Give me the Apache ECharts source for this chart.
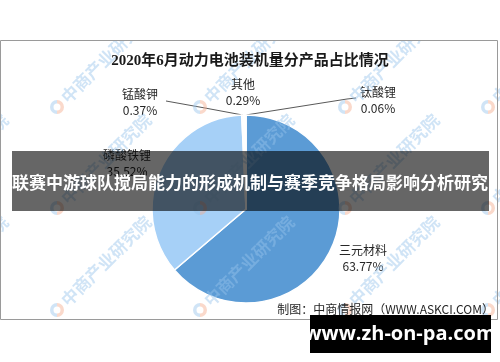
<!DOCTYPE html>
<html>
<head>
<meta charset="utf-8">
<script src="https://cdn.jsdelivr.net/npm/echarts@6/dist/echarts.min.js"></script>
<style>
html,body{margin:0;padding:0;background:#fff;}
#chart{width:500px;height:362px;}
</style>
</head>
<body>
<div id="chart"></div>
<script>
// ---- data ----
const chartTitle = '2020年6月动力电池装机量分产品占比情况';
const categories = ['三元材料', '磷酸铁锂', '锰酸钾', '其他', '钛酸锂'];
const shares = [63.77, 35.52, 0.37, 0.29, 0.06];
const sourceText = '制图：中商情报网（WWW.ASKCI.COM）';
const bannerText = '联赛中游球队搅局能力的形成机制与赛季竞争格局影响分析研究';
const siteText = 'www.zh-on-pa.com';
const watermarkText = '中商产业研究院';

// ---- styling / layout ----
const sliceColors = ['#5B9BD5', '#A6D0F7', '#FBFBFB', '#FBFBFB', '#FBFBFB'];
const showLine = [false, false, true, false, true];
// label block centres and leader-line bends (pixels)
const labelPlace = [
  {x: 363, y: 258},
  {x: 127, y: 163},
  {x: 140, y: 102, line: [[205, 108], [166, 101]]},
  {x: 243, y: 92},
  {x: 378, y: 100, line: [[347, 99], [356, 98]]}
];

const chart = echarts.init(document.getElementById('chart'), null, {renderer: 'canvas'});

const wmRowsY = [107, 208, 310];
const wmColsX = [-86, 57, 200, 345, 488];
const watermarks = [];
wmRowsY.forEach(function (y) {
  wmColsX.forEach(function (x) {
    watermarks.push({
      type: 'sector', z: 5, silent: true,
      shape: {cx: x, cy: y, r: 7, r0: 3.5, startAngle: Math.PI * 0.5, endAngle: Math.PI * 1.5},
      style: {fill: 'rgba(150,195,235,0.45)'}
    });
    watermarks.push({
      type: 'sector', z: 5, silent: true,
      shape: {cx: x, cy: y, r: 7, r0: 3.5, startAngle: -Math.PI * 0.5, endAngle: Math.PI * 0.5},
      style: {fill: 'rgba(245,170,140,0.45)'}
    });
    watermarks.push({
      type: 'text', z: 5, silent: true,
      x: x + 7, y: y - 7, rotation: Math.PI / 4,
      style: {
        text: watermarkText, fill: 'rgba(150,195,235,0.45)',
        font: 'bold 17px "Noto Sans CJK SC"', align: 'left', verticalAlign: 'middle'
      }
    });
  });
});

const option = {
  backgroundColor: '#ffffff',
  animation: false,
  title: {
    text: chartTitle,
    left: 'center', top: 49,
    textStyle: {
      fontFamily: '"Liberation Serif","Noto Sans CJK SC"',
      fontWeight: 'bold', fontSize: 15, color: '#1a1a1a'
    }
  },
  series: [{
    type: 'pie',
    center: [246, 209],
    radius: 94,
    startAngle: 90,
    clockwise: true,
    avoidLabelOverlap: false,
    itemStyle: {borderColor: '#ffffff', borderWidth: 1.5},
    label: {
      show: true,
      position: 'outside',
      formatter: '{b}\n{c}%',
      fontFamily: '"Noto Sans CJK SC"',
      fontSize: 12,
      lineHeight: 16,
      color: '#262626',
      align: 'center'
    },
    labelLine: {show: true, length: 10, length2: 10, lineStyle: {color: '#595959', width: 1}},
    labelLayout: function (p) {
      const place = labelPlace[p.dataIndex];
      const out = {x: place.x, y: place.y, align: 'center', verticalAlign: 'middle', hideOverlap: false, moveOverlap: null};
      if (place.line && p.labelLinePoints && p.labelLinePoints.length) {
        out.labelLinePoints = [p.labelLinePoints[0]].concat(place.line);
      }
      return out;
    },
    data: categories.map(function (name, i) {
      return {
        name: name,
        value: shares[i],
        itemStyle: {color: sliceColors[i]},
        labelLine: {show: showLine[i]}
      };
    })
  }],
  graphic: watermarks.concat([
    {
      type: 'rect', z: 6, silent: true,
      shape: {x: 0, y: 0, width: 500, height: 40},
      style: {fill: '#ffffff'}
    },
    {
      type: 'rect', z: 6, silent: true,
      shape: {x: 0, y: 320, width: 500, height: 42},
      style: {fill: '#ffffff'}
    },
    {
      type: 'rect', z: 7, silent: true,
      shape: {x: 0.5, y: 40.5, width: 497, height: 279},
      style: {fill: null, stroke: '#9a9a9a', lineWidth: 1}
    },
    {
      type: 'text', z: 7, silent: true,
      x: 494, y: 309,
      style: {
        text: sourceText, fill: '#262626',
        font: '12px "Noto Sans CJK SC"', align: 'right', verticalAlign: 'middle'
      }
    },
    {
      type: 'rect', z: 8, silent: true,
      shape: {x: 12, y: 151, width: 477, height: 60},
      style: {fill: 'rgba(0,0,0,0.6)'}
    },
    {
      type: 'text', z: 9, silent: true,
      x: 250, y: 183,
      style: {
        text: bannerText, fill: '#ffffff',
        font: 'bold 17px "Noto Sans CJK SC"', align: 'center', verticalAlign: 'middle'
      }
    },
    {
      type: 'rect', z: 8, silent: true,
      shape: {x: 310, y: 315, width: 181, height: 38},
      style: {fill: '#000000'}
    },
    {
      type: 'text', z: 9, silent: true,
      x: 400, y: 334,
      style: {
        text: siteText, fill: '#ffffff',
        font: 'bold 20px "Open Sans","DejaVu Sans"', align: 'center', verticalAlign: 'middle'
      }
    }
  ])
};
chart.setOption(option);
</script>
</body>
</html>
